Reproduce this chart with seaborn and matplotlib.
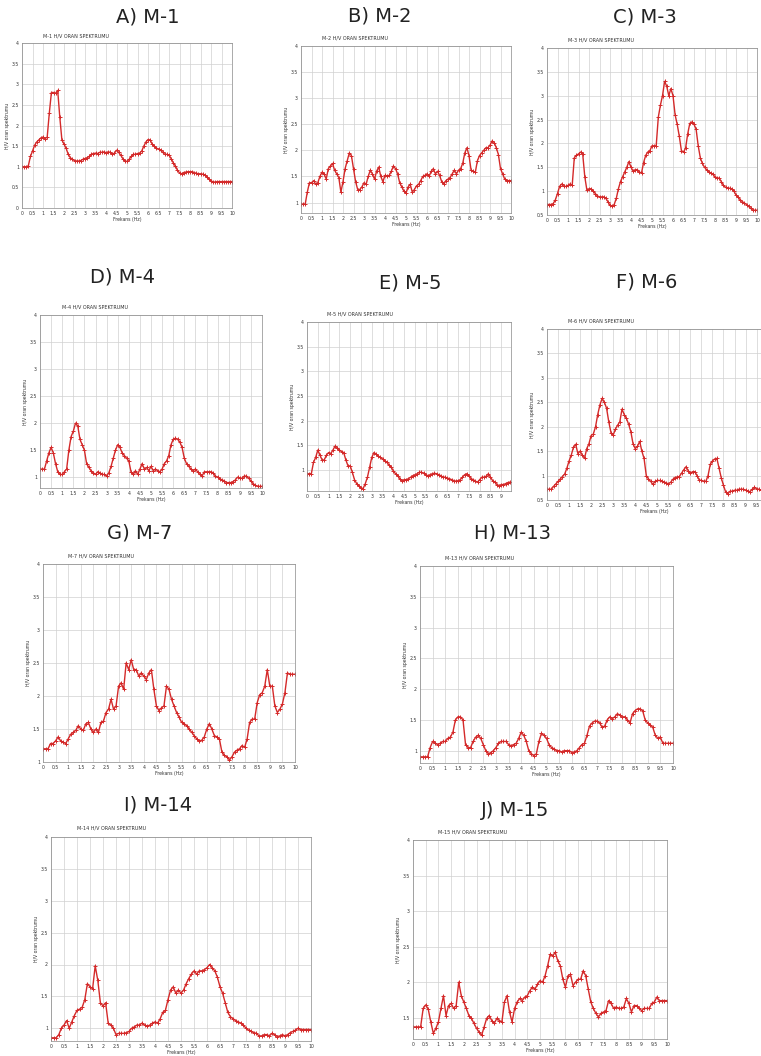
import numpy as np
import pandas as pd
import matplotlib
matplotlib.use("Agg")
import matplotlib.pyplot as plt
import seaborn as sns
from matplotlib.ticker import MultipleLocator, FormatStrFormatter

# H/V ratio, one value every 0.1 Hz starting at 0 Hz
m1 = [1.0, 1.0, 1.0, 1.02, 1.25, 1.38, 1.52, 1.6, 1.65, 1.7,
      1.72, 1.68, 1.72, 2.3, 2.8, 2.8, 2.78, 2.85, 2.2, 1.65,
      1.55, 1.45, 1.3, 1.22, 1.18, 1.15, 1.14, 1.14, 1.15, 1.18,
      1.2, 1.22, 1.25, 1.3, 1.32, 1.33, 1.32, 1.35, 1.35, 1.36,
      1.34, 1.36, 1.35, 1.3, 1.33, 1.4, 1.35, 1.28, 1.2, 1.14,
      1.13, 1.18, 1.25, 1.3, 1.3, 1.32, 1.33, 1.38, 1.5, 1.6,
      1.66, 1.65, 1.55, 1.5, 1.45, 1.43, 1.4, 1.35, 1.3, 1.3,
      1.28, 1.2, 1.1, 1.02, 0.92, 0.85, 0.83, 0.86, 0.87, 0.88,
      0.88, 0.88, 0.86, 0.84, 0.83, 0.83, 0.82, 0.8, 0.75, 0.7,
      0.66, 0.63, 0.63, 0.64, 0.64, 0.64, 0.64, 0.64, 0.64, 0.64, 0.64]

m2 = [0.97, 0.97, 0.97, 1.2, 1.38, 1.38, 1.42, 1.35, 1.38, 1.5,
      1.58, 1.55, 1.45, 1.65, 1.7, 1.75, 1.62, 1.55, 1.48, 1.2,
      1.4, 1.65, 1.8, 1.95, 1.9, 1.65, 1.4, 1.25, 1.25, 1.3,
      1.38, 1.35, 1.5, 1.62, 1.55, 1.45, 1.6, 1.68, 1.5, 1.4,
      1.52, 1.5, 1.52, 1.6, 1.7, 1.65, 1.55, 1.38, 1.3, 1.22,
      1.18, 1.3, 1.35, 1.2, 1.25, 1.32, 1.35, 1.42, 1.5, 1.52,
      1.55, 1.5, 1.6, 1.65, 1.55, 1.6, 1.52, 1.4, 1.35, 1.42,
      1.45, 1.48, 1.55, 1.62, 1.55, 1.62, 1.65, 1.75, 1.95, 2.05,
      1.9, 1.62, 1.6, 1.58, 1.8, 1.9, 1.95, 2.0, 2.05, 2.05,
      2.1, 2.18, 2.15, 2.05, 1.92, 1.65, 1.55, 1.45, 1.42, 1.42, 1.42]

m3 = [0.72, 0.72, 0.72, 0.74, 0.82, 0.95, 1.1, 1.15, 1.1, 1.1,
      1.12, 1.15, 1.12, 1.7, 1.75, 1.78, 1.82, 1.78, 1.3, 1.02,
      1.05, 1.05, 1.0, 0.95, 0.9, 0.88, 0.88, 0.88, 0.85, 0.78,
      0.7, 0.68, 0.72, 0.85, 1.05, 1.2, 1.3, 1.4, 1.5, 1.62,
      1.5, 1.42, 1.45, 1.45, 1.4, 1.38, 1.6, 1.75, 1.82, 1.85,
      1.95, 1.95, 1.95, 2.55, 2.8, 3.0, 3.3, 3.2, 3.0, 3.15,
      3.0, 2.6, 2.4, 2.15, 1.85, 1.82, 1.9, 2.2, 2.42, 2.45,
      2.4, 2.3, 1.95, 1.7, 1.58, 1.5, 1.45, 1.4, 1.38, 1.35,
      1.3, 1.28, 1.27, 1.2, 1.12, 1.08, 1.06, 1.06, 1.05, 1.0,
      0.92, 0.87, 0.82, 0.78, 0.75, 0.72, 0.68, 0.64, 0.6, 0.6, 0.6]

m4 = [1.15, 1.15, 1.15, 1.3, 1.45, 1.55, 1.45, 1.25, 1.1, 1.05,
      1.05, 1.1, 1.15, 1.5, 1.75, 1.85, 2.0, 1.95, 1.7, 1.6,
      1.5, 1.25, 1.18, 1.12, 1.08, 1.05, 1.1, 1.08, 1.05, 1.05,
      1.02, 1.08, 1.2, 1.35, 1.5, 1.6, 1.55, 1.45, 1.4, 1.35,
      1.3, 1.1, 1.05, 1.12, 1.05, 1.15, 1.25, 1.15, 1.18, 1.12,
      1.2, 1.12, 1.15, 1.12, 1.1, 1.15, 1.25, 1.3, 1.4, 1.6,
      1.7, 1.72, 1.7, 1.65, 1.55, 1.35, 1.25, 1.2, 1.15, 1.12,
      1.15, 1.1, 1.05, 1.02, 1.1, 1.1, 1.1, 1.1, 1.08, 1.02,
      1.0, 0.97, 0.95, 0.93, 0.9, 0.9, 0.9, 0.92, 0.95, 1.0,
      0.98, 0.98, 1.02, 1.02, 0.98, 0.93, 0.88, 0.85, 0.83, 0.83, 0.83]

m5 = [0.92, 0.92, 0.92, 1.15, 1.25, 1.4, 1.3, 1.2, 1.2, 1.3,
      1.35, 1.33, 1.4, 1.48, 1.45, 1.4, 1.37, 1.35, 1.2, 1.08,
      1.08, 0.95, 0.8, 0.72, 0.68, 0.63, 0.62, 0.72, 0.85, 1.05,
      1.25, 1.35, 1.32, 1.28, 1.25, 1.22, 1.18, 1.15, 1.1, 1.05,
      0.98, 0.92, 0.88, 0.82, 0.78, 0.8, 0.8, 0.82, 0.85, 0.88,
      0.9, 0.92, 0.95, 0.95, 0.93, 0.9, 0.88, 0.9, 0.92, 0.93,
      0.92, 0.9, 0.88, 0.85, 0.85, 0.83, 0.82, 0.8, 0.78, 0.77,
      0.78, 0.8, 0.85, 0.9, 0.92, 0.88, 0.82, 0.8, 0.77, 0.75,
      0.8, 0.85, 0.85, 0.87, 0.92, 0.85, 0.78, 0.75, 0.7, 0.68,
      0.7, 0.7, 0.72, 0.74, 0.75]

m6 = [0.72, 0.72, 0.72, 0.78, 0.83, 0.88, 0.93, 0.98, 1.03, 1.15,
      1.3, 1.42, 1.58, 1.64, 1.45, 1.5, 1.42, 1.35, 1.55, 1.65,
      1.82, 1.85, 2.0, 2.25, 2.45, 2.58, 2.5, 2.38, 2.1, 1.88,
      1.83, 1.95, 2.03, 2.1, 2.36, 2.25, 2.17, 2.05, 1.9, 1.65,
      1.55, 1.6, 1.7, 1.5, 1.35, 1.0, 0.93, 0.88, 0.82, 0.88,
      0.9, 0.9, 0.88, 0.87, 0.85, 0.83, 0.86, 0.92, 0.96, 0.97,
      0.98, 1.05, 1.12, 1.18, 1.1, 1.05, 1.08, 1.08, 1.0, 0.91,
      0.9, 0.88, 0.88, 1.0, 1.23, 1.3, 1.34, 1.35, 1.15, 0.95,
      0.8, 0.66, 0.63, 0.68, 0.68, 0.7, 0.7, 0.72, 0.72, 0.72,
      0.7, 0.68, 0.67, 0.72, 0.76, 0.73, 0.72, 0.7]

m7 = [1.2, 1.2, 1.2, 1.28, 1.28, 1.32, 1.38, 1.32, 1.3, 1.28,
      1.35, 1.42, 1.45, 1.48, 1.55, 1.5, 1.48, 1.58, 1.6, 1.5,
      1.45, 1.5, 1.45, 1.6, 1.62, 1.75, 1.8, 1.95, 1.8, 1.85,
      2.15, 2.2, 2.1, 2.5, 2.4, 2.55, 2.4, 2.4, 2.3, 2.35,
      2.3, 2.25, 2.35, 2.4, 2.1, 1.85, 1.78, 1.82, 1.85, 2.15,
      2.1, 1.95, 1.85, 1.75, 1.68, 1.6, 1.58, 1.55, 1.5, 1.45,
      1.4, 1.35, 1.32, 1.33, 1.38, 1.5, 1.58, 1.5, 1.4, 1.38,
      1.35, 1.15, 1.1, 1.08, 1.03, 1.08, 1.15, 1.18, 1.2, 1.25,
      1.22, 1.35, 1.6, 1.65, 1.65, 1.9, 2.02, 2.05, 2.15, 2.4,
      2.15, 2.15, 1.85, 1.75, 1.8, 1.88, 2.05, 2.35, 2.33, 2.33, 2.33]

m13 = [0.9, 0.9, 0.9, 0.9, 1.05, 1.15, 1.12, 1.1, 1.12, 1.15,
       1.15, 1.2, 1.22, 1.3, 1.5, 1.55, 1.55, 1.5, 1.1, 1.05,
       1.05, 1.15, 1.22, 1.25, 1.2, 1.1, 1.0, 0.95, 0.97, 1.0,
       1.05, 1.12, 1.15, 1.15, 1.15, 1.1, 1.08, 1.1, 1.12, 1.2,
       1.3, 1.25, 1.15, 1.0, 0.95, 0.92, 0.95, 1.15, 1.28, 1.25,
       1.2, 1.1, 1.05, 1.03, 1.0, 1.0, 0.98, 1.0, 1.0, 1.0,
       0.97, 0.98, 1.0, 1.05, 1.1, 1.12, 1.25, 1.4, 1.45, 1.48,
       1.48, 1.45, 1.38, 1.4, 1.5, 1.55, 1.52, 1.55, 1.6, 1.58,
       1.55, 1.55, 1.5, 1.45, 1.6, 1.65, 1.68, 1.68, 1.65, 1.5,
       1.45, 1.42, 1.38, 1.25, 1.2, 1.22, 1.12, 1.12, 1.12, 1.12, 1.12]

m14 = [0.85, 0.85, 0.85, 0.9, 1.0, 1.05, 1.12, 1.0, 1.1, 1.2,
       1.28, 1.3, 1.33, 1.45, 1.7, 1.65, 1.62, 1.98, 1.75, 1.4,
       1.35, 1.4, 1.08, 1.05, 1.0, 0.9, 0.92, 0.92, 0.92, 0.93,
       0.95, 1.0, 1.02, 1.05, 1.05, 1.08, 1.05, 1.03, 1.05, 1.08,
       1.1, 1.08, 1.15, 1.25, 1.28, 1.45, 1.6, 1.65, 1.55, 1.6,
       1.55, 1.6, 1.7, 1.78, 1.85, 1.9, 1.85, 1.9, 1.9, 1.92,
       1.95, 2.0, 1.95, 1.9, 1.8, 1.65, 1.55, 1.4, 1.25, 1.18,
       1.15, 1.12, 1.1, 1.08, 1.05, 1.0, 0.97, 0.95, 0.93, 0.92,
       0.88, 0.88, 0.9, 0.9, 0.88, 0.92, 0.9, 0.87, 0.88, 0.9,
       0.88, 0.9, 0.93, 0.95, 0.97, 1.0, 0.98, 0.98, 0.98, 0.98, 0.98]

m15 = [1.37, 1.37, 1.37, 1.37, 1.63, 1.68, 1.62, 1.44, 1.28, 1.35,
       1.44, 1.63, 1.81, 1.53, 1.67, 1.7, 1.63, 1.67, 2.0, 1.81,
       1.72, 1.63, 1.53, 1.49, 1.42, 1.35, 1.3, 1.25, 1.37, 1.49,
       1.53, 1.46, 1.42, 1.49, 1.46, 1.44, 1.72, 1.81, 1.58, 1.44,
       1.63, 1.72, 1.77, 1.74, 1.79, 1.81, 1.88, 1.93, 1.9, 1.97,
       2.02, 2.0, 2.09, 2.23, 2.39, 2.37, 2.42, 2.3, 2.23, 2.04,
       1.93, 2.09, 2.11, 1.95, 2.0, 2.04, 2.04, 2.16, 2.09, 1.9,
       1.72, 1.63, 1.56, 1.51, 1.56, 1.58, 1.6, 1.74, 1.7, 1.63,
       1.65, 1.63, 1.63, 1.65, 1.77, 1.7, 1.58, 1.67, 1.67, 1.63,
       1.6, 1.63, 1.63, 1.63, 1.7, 1.72, 1.79, 1.74, 1.74, 1.74, 1.74]

labels = ["A) M-1", "B) M-2", "C) M-3", "D) M-4", "E) M-5",
          "F) M-6", "G) M-7", "H) M-13", "I) M-14", "J) M-15"]
stations = ["M-1", "M-2", "M-3", "M-4", "M-5", "M-6", "M-7", "M-13", "M-14", "M-15"]
series = [m1, m2, m3, m4, m5, m6, m7, m13, m14, m15]
x_max = [10, 10, 10, 10, 9.45, 9.7, 10, 10, 10, 10]
y_min = [0, 0.8, 0.5, 0.8, 0.57, 0.5, 1.0, 0.8, 0.8, 1.2]

# axes boxes in pixels (left, top, right, bottom) and big title centres
boxes = [(22, 43, 232, 208), (301, 46, 511, 213), (547, 48, 757, 215),
         (40, 315, 262, 488), (307, 322, 511, 491), (547, 329, 761, 500),
         (43, 564, 295, 762), (420, 566, 673, 763),
         (51, 837, 311, 1041), (413, 840, 667, 1039)]
heads = [(148, 17), (380, 16), (645, 17), (122, 277), (410, 283), (647, 282),
         (140, 533), (513, 533), (158, 805), (515, 810)]

W, H = 761, 1056
RED = "#d42a2a"

sns.set_style("white")
fig = plt.figure(figsize=(W / 100, H / 100), dpi=100)

for i in range(len(series)):
    l, t, r, b = boxes[i]
    ax = fig.add_axes([l / W, 1 - b / H, (r - l) / W, (b - t) / H])
    df = pd.DataFrame({"f": np.round(np.arange(len(series[i])) * 0.1, 1), "hv": series[i]})
    sns.lineplot(data=df, x="f", y="hv", ax=ax, color=RED, linewidth=1.0,
                 marker="+", markersize=3, markeredgecolor=RED, markeredgewidth=0.7)
    ax.set_xlim(0, x_max[i])
    ax.set_ylim(y_min[i], 4)
    ax.xaxis.set_major_locator(MultipleLocator(0.5))
    ax.yaxis.set_major_locator(MultipleLocator(0.5))
    ax.xaxis.set_major_formatter(FormatStrFormatter("%g"))
    ax.yaxis.set_major_formatter(FormatStrFormatter("%g"))
    ax.grid(True, color="#d0d0d0", linewidth=0.5)
    ax.tick_params(labelsize=3.3, length=1.2, width=0.4, pad=1, colors="#333333")
    for s in ax.spines.values():
        s.set_color("#888888")
        s.set_linewidth(0.5)
    ax.set_xlabel("Frekans (Hz)", fontsize=3.3, labelpad=1, color="#333333")
    ax.set_ylabel("H/V oran spektrumu", fontsize=3.3, labelpad=1, color="#333333")
    ax.text(0.1, 1.03, stations[i] + " H/V ORAN SPEKTRUMU", transform=ax.transAxes,
            fontsize=3.5, ha="left", va="bottom", color="#333333")
    hx, hy = heads[i]
    fig.text(hx / W, 1 - hy / H, labels[i], fontsize=14, ha="center", va="center",
             color="#222222")

fig.savefig("out.png", dpi=100, facecolor="white")
